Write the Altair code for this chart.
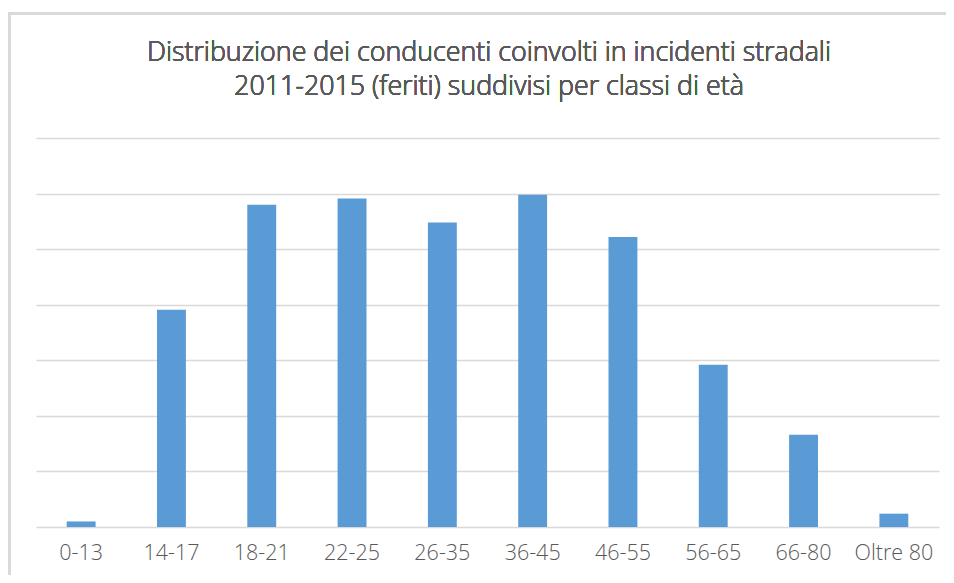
import altair as alt
import pandas as pd

categories = ["0-13", "14-17", "18-21", "22-25", "26-35", "36-45", "46-55", "56-65", "66-80", "Oltre 80"]
values = [0.10, 3.91, 5.80, 5.91, 5.48, 5.98, 5.22, 2.92, 1.66, 0.24]
grid_values = [0, 1, 2, 3, 4, 5, 6, 7]
title_line1 = "Distribuzione dei conducenti coinvolti in incidenti stradali"
title_line2 = "2011-2015 (feriti) suddivisi per classi di età"

df = pd.DataFrame({"classe": categories, "valore": values})

W = 903
H = 389
FONT = "Open Sans"

bars = alt.Chart(df).mark_bar(color="#5b9bd5").encode(
    x=alt.X("classe:N", sort=categories,
            scale=alt.Scale(paddingInner=0.68, paddingOuter=0.34),
            axis=alt.Axis(title=None, labelAngle=0, ticks=False, domain=False,
                          labelFont=FONT, labelFontSize=21.5, labelFontWeight=300,
                          labelColor="#595959", labelPadding=15, grid=False)),
    y=alt.Y("valore:Q", scale=alt.Scale(domain=[0, 7], nice=False),
            axis=alt.Axis(title=None, labels=False, ticks=False, domain=False,
                          values=grid_values, grid=True, gridColor="#d9d9d9", gridWidth=1.3)),
)

# chart-area border (only the left and top edges fall inside the picture)
frame = alt.Chart(df).mark_rect(fill=None, stroke="#d9d9d9", strokeWidth=2.5).encode(
    x=alt.value(-27), x2=alt.value(960), y=alt.value(-124.5), y2=alt.value(480)
)

title_style = dict(font=FONT, fontSize=26.8, color="#595959", fontWeight=300,
                   align="center", baseline="alphabetic")
t1 = alt.Chart(df).mark_text(**title_style).encode(
    x=alt.value(453), y=alt.value(-77), text=alt.value(title_line1)
)
t2 = alt.Chart(df).mark_text(**title_style).encode(
    x=alt.value(453), y=alt.value(-43), text=alt.value(title_line2)
)

chart = alt.layer(frame, t1, t2, bars).properties(
    width=W, height=H,
    autosize=alt.AutoSizeParams(type="none"),
    padding={"left": 28, "top": 130, "right": 7, "bottom": 48},
).configure_view(stroke=None)

chart.save("out.html", embed_options={"renderer": "svg", "actions": False})
